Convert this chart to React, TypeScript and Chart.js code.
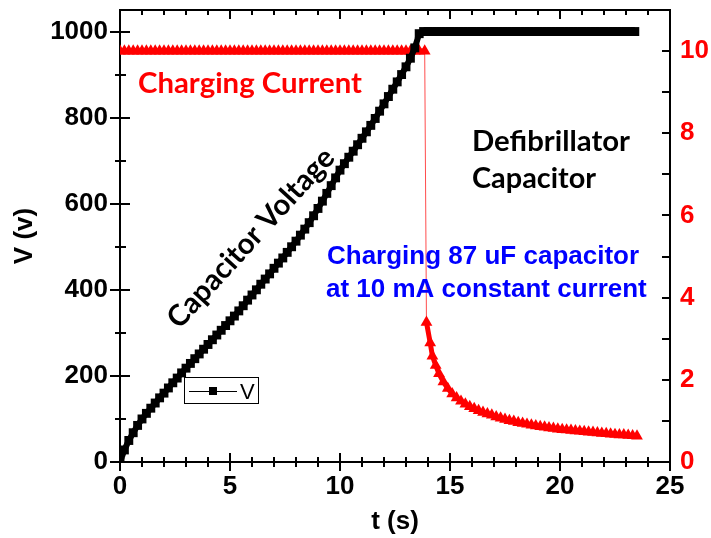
import React, { useEffect, useRef } from "react";
import { Chart, registerables } from "chart.js";

Chart.register(...registerables);

// ---- Data ----
const timeV = [
  0, 0.2, 0.4, 0.6, 0.8, 1, 1.2, 1.4, 1.6, 1.8, 2, 2.2, 2.4, 2.6, 2.8, 3, 3.2, 3.4, 3.6, 3.8,
  4, 4.2, 4.4, 4.6, 4.8, 5, 5.2, 5.4, 5.6, 5.8, 6, 6.2, 6.4, 6.6, 6.8, 7, 7.2, 7.4, 7.6, 7.8,
  8, 8.2, 8.4, 8.6, 8.8, 9, 9.2, 9.4, 9.6, 9.8, 10, 10.2, 10.4, 10.6, 10.8, 11, 11.2, 11.4, 11.6, 11.8,
  12, 12.2, 12.4, 12.6, 12.8, 13, 13.2, 13.4, 13.6, 13.8, 14, 14.2, 14.4, 14.6, 14.8, 15, 15.2, 15.4, 15.6, 15.8,
  16, 16.2, 16.4, 16.6, 16.8, 17, 17.2, 17.4, 17.6, 17.8, 18, 18.2, 18.4, 18.6, 18.8, 19, 19.2, 19.4, 19.6, 19.8,
  20, 20.2, 20.4, 20.6, 20.8, 21, 21.2, 21.4, 21.6, 21.8, 22, 22.2, 22.4, 22.6, 22.8, 23, 23.2, 23.4,
];
const voltage = [
  0, 28, 50, 68, 85, 100, 113, 125, 137, 149, 160, 172, 184, 195, 207, 218, 229, 240, 251, 262,
  273, 284, 295, 306, 317, 328, 339, 351, 363, 376, 388, 400, 413, 425, 437, 450, 462, 474, 487, 500,
  513, 527, 541, 556, 572, 589, 606, 624, 642, 660, 678, 693, 708, 722, 737, 752, 767, 782, 798, 815,
  832, 849, 866, 883, 900, 918, 938, 962, 995, 1000, 1000, 1000, 1000, 1000, 1000, 1000, 1000, 1000, 1000, 1000,
  1000, 1000, 1000, 1000, 1000, 1000, 1000, 1000, 1000, 1000, 1000, 1000, 1000, 1000, 1000, 1000, 1000, 1000, 1000, 1000,
  1000, 1000, 1000, 1000, 1000, 1000, 1000, 1000, 1000, 1000, 1000, 1000, 1000, 1000, 1000, 1000, 1000, 1000,
];
const timeI = [
  0, 0.2, 0.4, 0.6, 0.8, 1, 1.2, 1.4, 1.6, 1.8, 2, 2.2, 2.4, 2.6, 2.8, 3, 3.2, 3.4, 3.6, 3.8,
  4, 4.2, 4.4, 4.6, 4.8, 5, 5.2, 5.4, 5.6, 5.8, 6, 6.2, 6.4, 6.6, 6.8, 7, 7.2, 7.4, 7.6, 7.8,
  8, 8.2, 8.4, 8.6, 8.8, 9, 9.2, 9.4, 9.6, 9.8, 10, 10.2, 10.4, 10.6, 10.8, 11, 11.2, 11.4, 11.6, 11.8,
  12, 12.2, 12.4, 12.6, 12.8, 13, 13.2, 13.4, 13.6, 13.85, 13.93, 14.1, 14.2, 14.35, 14.5, 14.7, 14.9,
  15.1, 15.3, 15.5, 15.7, 15.9, 16.1, 16.3, 16.5, 16.7, 16.9, 17.1, 17.3, 17.5, 17.7, 17.9,
  18.1, 18.3, 18.5, 18.7, 18.9, 19.1, 19.3, 19.5, 19.7, 19.9, 20.1, 20.3, 20.5, 20.7, 20.9,
  21.1, 21.3, 21.5, 21.7, 21.9, 22.1, 22.3, 22.5, 22.7, 22.9, 23.1, 23.3, 23.5,
];
const current = [
  10, 10, 10, 10, 10, 10, 10, 10, 10, 10, 10, 10, 10, 10, 10, 10, 10, 10, 10, 10,
  10, 10, 10, 10, 10, 10, 10, 10, 10, 10, 10, 10, 10, 10, 10, 10, 10, 10, 10, 10,
  10, 10, 10, 10, 10, 10, 10, 10, 10, 10, 10, 10, 10, 10, 10, 10, 10, 10, 10, 10,
  10, 10, 10, 10, 10, 10, 10, 10, 10, 10, 3.4, 2.9, 2.58, 2.35, 2.15, 1.95, 1.79,
  1.66, 1.56, 1.48, 1.41, 1.35, 1.3, 1.25, 1.21, 1.17, 1.14, 1.1, 1.07, 1.04, 1.01, 0.99,
  0.96, 0.94, 0.92, 0.9, 0.88, 0.86, 0.85, 0.83, 0.82, 0.8, 0.79, 0.78, 0.77, 0.76, 0.75,
  0.74, 0.73, 0.72, 0.71, 0.7, 0.69, 0.68, 0.67, 0.66, 0.66, 0.65, 0.64, 0.63,
];

const xRange = [0, 25];
const vRange = [0, 1050];
const iRange = [0, 11];
const xMajorStep = 5;
const vMajorStep = 200;
const iMajorStep = 2;

const seriesV = "V";
const seriesI = "I";
const xTitle = "t (s)";
const vTitle = "V (v)";
const labelCurrent = "Charging Current";
const labelVoltage = "Capacitor Voltage";
const labelDefib = ["Defibrillator", "Capacitor"];
const labelBlue = ["Charging 87 uF capacitor", "at 10 mA constant current"];

const ARIAL = "'Liberation Sans', Arial, sans-serif";
const CAL = "Lato, 'Open Sans', sans-serif";
const RED = "#ff0000";

function fitFont(ctx: CanvasRenderingContext2D, text: string, width: number, weight: string, family: string) {
  ctx.font = `${weight} 100px ${family}`;
  const w = ctx.measureText(text).width;
  const size = (100 * width) / w;
  ctx.font = `${weight} ${size}px ${family}`;
  return size;
}

const decorPlugin = {
  id: "decor",
  afterDraw(chart: any) {
    const ctx: CanvasRenderingContext2D = chart.ctx;
    const { left, right, top, bottom } = chart.chartArea;
    const xs = chart.scales.x;
    const ys = chart.scales.y;
    const y1 = chart.scales.y1;
    ctx.save();
    ctx.strokeStyle = "#000";
    ctx.lineWidth = 2;
    // top frame line
    ctx.beginPath();
    ctx.moveTo(left - 1, top);
    ctx.lineTo(right + 1, top);
    ctx.stroke();
    // x ticks (bottom & top)
    for (let v = xRange[0]; v <= xRange[1]; v += 1) {
      const px = Math.round(xs.getPixelForValue(v));
      const major = v % xMajorStep === 0;
      const l = major ? 9 : 5;
      ctx.beginPath();
      ctx.moveTo(px, bottom - l);
      ctx.lineTo(px, bottom + l);
      ctx.moveTo(px, top);
      ctx.lineTo(px, top + l);
      ctx.stroke();
    }
    // left ticks
    for (let v = 0; v <= 1000; v += 100) {
      const py = Math.round(ys.getPixelForValue(v));
      const major = v % vMajorStep === 0;
      ctx.beginPath();
      if (major) {
        ctx.moveTo(left - 10, py);
        ctx.lineTo(left + 10, py);
      } else {
        ctx.moveTo(left - 5, py);
        ctx.lineTo(left + 6, py);
      }
      ctx.stroke();
    }
    // right ticks
    for (let v = 0; v <= 10; v += 1) {
      const py = Math.round(y1.getPixelForValue(v));
      ctx.beginPath();
      ctx.moveTo(right - 8, py);
      ctx.lineTo(right, py);
      ctx.stroke();
    }

    // annotations
    ctx.textAlign = "left";
    ctx.textBaseline = "alphabetic";
    ctx.fillStyle = RED;
    fitFont(ctx, labelCurrent, 224, "bold", CAL);
    ctx.fillText(labelCurrent, 138, 93);

    ctx.fillStyle = "#000";
    fitFont(ctx, labelDefib[0], 158, "bold", CAL);
    ctx.fillText(labelDefib[0], 472, 151);
    fitFont(ctx, labelDefib[1], 124, "bold", CAL);
    ctx.fillText(labelDefib[1], 472, 188);

    ctx.save();
    ctx.translate(251, 238);
    ctx.rotate((-47.5 * Math.PI) / 180);
    ctx.textAlign = "center";
    ctx.textBaseline = "middle";
    fitFont(ctx, labelVoltage, 232, "bold", CAL);
    ctx.fillText(labelVoltage, 0, 0);
    ctx.restore();

    ctx.fillStyle = "#0000ff";
    ctx.font = `bold 26px ${ARIAL}`;
    ctx.fillText(labelBlue[0], 327, 264);
    ctx.fillText(labelBlue[1], 326, 297);

    // legend
    ctx.lineWidth = 1;
    ctx.strokeStyle = "#000";
    ctx.strokeRect(184.5, 377.5, 74, 26);
    ctx.beginPath();
    ctx.moveTo(189, 391.5);
    ctx.lineTo(237, 391.5);
    ctx.stroke();
    ctx.fillStyle = "#000";
    ctx.fillRect(209, 387, 8, 8);
    ctx.font = `22px ${ARIAL}`;
    ctx.fillText(seriesV, 240, 399);
    ctx.restore();
  },
};

export default function App() {
  const ref = useRef<HTMLCanvasElement>(null);
  useEffect(() => {
    const tickFont = { family: ARIAL, size: 26, weight: "bold" as const };
    const noPadV = (s: any, w: number) => {
      s.width = w;
      s.paddingTop = 0;
      s.paddingBottom = 0;
    };
    const chart = new Chart(ref.current as HTMLCanvasElement, {
      type: "line",
      data: {
        datasets: [
          {
            label: seriesV,
            data: timeV.map((t, i) => ({ x: t, y: voltage[i] })),
            yAxisID: "y",
            borderColor: "#000",
            borderWidth: 6,
            backgroundColor: "#000",
            pointStyle: "rect",
            pointRadius: 6.3,
            pointBorderWidth: 0,
            pointBackgroundColor: "#000",
            clip: 0,
          },
          {
            label: seriesI,
            data: timeI.map((t, i) => ({ x: t, y: current[i] })),
            yAxisID: "y1",
            borderColor: "rgba(255,0,0,0.85)",
            borderWidth: 1,
            segment: {
              borderWidth: (c: any) => (Math.abs(c.p0.parsed.y - c.p1.parsed.y) > 3 ? 1 : 5),
              borderColor: (c: any) => (Math.abs(c.p0.parsed.y - c.p1.parsed.y) > 3 ? "rgba(255,0,0,0.7)" : RED),
            },
            backgroundColor: RED,
            pointStyle: "triangle",
            pointRadius: 6.8,
            pointBorderWidth: 0,
            pointBackgroundColor: RED,
            clip: 0,
          },
        ],
      },
      options: {
        animation: false,
        responsive: false,
        devicePixelRatio: 1,
        layout: { padding: { top: 10, left: 0, right: 0, bottom: 0 } },
        plugins: { legend: { display: false }, tooltip: { enabled: false } },
        elements: { line: { tension: 0 } },
        scales: {
          x: {
            type: "linear",
            position: "bottom",
            min: xRange[0],
            max: xRange[1],
            grid: { display: false, drawTicks: false },
            border: { display: true, color: "#000", width: 2 },
            ticks: {
              stepSize: xMajorStep,
              color: "#000",
              font: tickFont,
              padding: 9,
              maxRotation: 0,
              callback: (v: any) => String(v),
            },
            title: {
              display: true,
              text: xTitle,
              color: "#000",
              font: tickFont,
              padding: { top: 0, bottom: 1 },
            },
            afterFit: (s: any) => {
              s.height = 76;
              s.paddingLeft = 0;
              s.paddingRight = 0;
            },
          },
          y: {
            type: "linear",
            position: "left",
            min: vRange[0],
            max: vRange[1],
            grid: { display: false, drawTicks: false },
            border: { display: true, color: "#000", width: 2 },
            ticks: {
              stepSize: vMajorStep,
              includeBounds: false,
              color: "#000",
              font: tickFont,
              padding: 12,
              callback: (v: any) => String(v),
            },
            title: {
              display: true,
              text: vTitle,
              color: "#000",
              font: tickFont,
              padding: { top: 9, bottom: 0 },
            },
            afterFit: (s: any) => noPadV(s, 120),
          },
          y1: {
            type: "linear",
            position: "right",
            min: iRange[0],
            max: iRange[1],
            grid: { display: false, drawTicks: false },
            border: { display: true, color: "#000", width: 2 },
            ticks: {
              stepSize: iMajorStep,
              includeBounds: false,
              color: RED,
              font: tickFont,
              padding: 10,
              callback: (v: any) => String(v),
            },
            afterFit: (s: any) => noPadV(s, 41),
          },
        },
      },
      plugins: [decorPlugin],
    });
    return () => chart.destroy();
  }, []);
  return (
    <div style={{ position: "absolute", left: 0, top: 0, width: 711, height: 538, background: "#fff" }}>
      <canvas ref={ref} width={711} height={538} style={{ display: "block", width: 711, height: 538 }} />
    </div>
  );
}
